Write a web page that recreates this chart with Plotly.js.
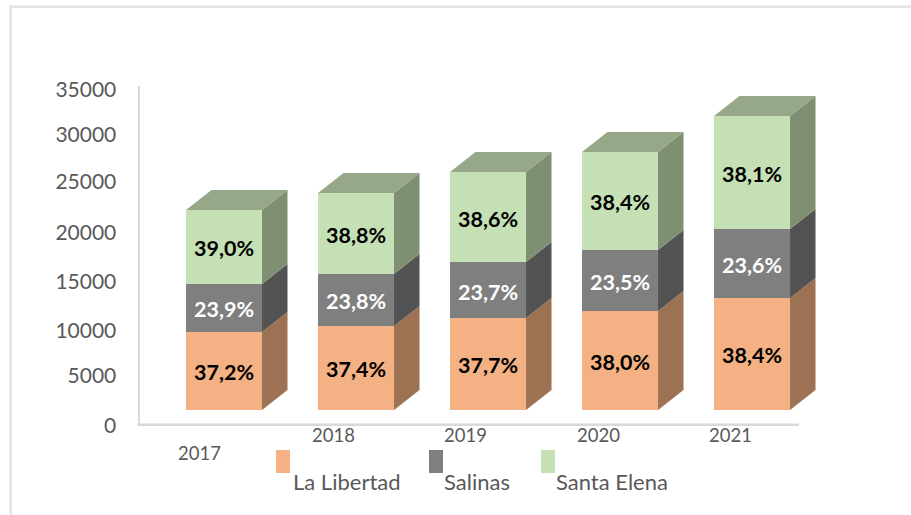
<!DOCTYPE html>
<html>
<head>
<meta charset="utf-8">
<script src="https://cdn.plot.ly/plotly-3.0.1.min.js"></script>
<style>html,body{margin:0;padding:0;background:#fff;overflow:hidden}#chart{width:911px;height:515px}</style>
</head>
<body>
<div id="chart"></div>
<script>
// Data
const years = ['2017', '2018', '2019', '2020', '2021'];
const seriesNames = ['La Libertad', 'Salinas', 'Santa Elena'];
const laLibertad = [8125, 8750, 9580, 10310, 11670];
const salinas = [5000, 5420, 5830, 6355, 7190];
const santaElena = [7710, 8440, 9375, 10210, 11770];
const laLibertadPct = ['37,2%', '37,4%', '37,7%', '38,0%', '38,4%'];
const salinasPct = ['23,9%', '23,8%', '23,7%', '23,5%', '23,6%'];
const santaElenaPct = ['39,0%', '38,8%', '38,6%', '38,4%', '38,1%'];
const yTickLabels = ['0', '5000', '10000', '15000', '20000', '25000', '30000', '35000'];
const yTickAt = [0, 5208, 9927, 15031, 20104, 25417, 30312, 35000];

// Styles and the fake 3D projection
const W = 911, H = 515;
const front = ['#f4b183', '#7f7f7f', '#c5e0b4'];
const side = ['#9c7252', '#525252', '#7f8f72'];
const topFace = '#96a888';
const labelColor = ['#000000', '#ffffff', '#000000'];
const grey = '#595959', axisGrey = '#d9d9d9';
const font = 'Lato, Carlito, Calibri, sans-serif';
const barWidth = 0.576, depthX = 0.193, depthY = 2083, floorLift = 1670;
const px = v => v / W, py = v => 1 - v / H;

const xs = years.map((_, i) => i);
const values = [laLibertad, salinas, santaElena];
const pcts = [laLibertadPct, salinasPct, santaElenaPct];

const data = [];
const bases = xs.map(() => floorLift);
const annotations = [];
values.forEach((vals, s) => {
  const b = bases.slice();
  data.push({
    type: 'bar', x: xs, y: vals, base: b, width: barWidth, name: seriesNames[s],
    marker: {color: front[s], line: {width: 0}},
    hoverinfo: 'skip', showlegend: false
  });
  const sx = [], sy = [];
  xs.forEach((x, i) => {
    const r = x + barWidth / 2, lo = b[i], hi = b[i] + vals[i];
    sx.push(r, r + depthX, r + depthX, r, r, null);
    sy.push(lo, lo + depthY, hi + depthY, hi, lo, null);
    bases[i] = hi;
    annotations.push({
      text: '<b>' + pcts[s][i] + '</b>', xref: 'x', yref: 'y', x: x, y: (lo + hi) / 2, yshift: -1.5,
      xanchor: 'center', yanchor: 'middle', showarrow: false,
      font: {family: font, size: 21.5, color: labelColor[s]}
    });
  });
  data.push({
    type: 'scatter', mode: 'lines', x: sx, y: sy, fill: 'toself', fillcolor: side[s],
    line: {width: 0, color: side[s]}, hoverinfo: 'skip', showlegend: false
  });
});
// top faces of the stacks
const tx = [], ty = [];
xs.forEach((x, i) => {
  const l = x - barWidth / 2, r = x + barWidth / 2, t = bases[i];
  tx.push(l, r, r + depthX, l + depthX, l, null);
  ty.push(t, t, t + depthY, t + depthY, t, null);
});
data.push({
  type: 'scatter', mode: 'lines', x: tx, y: ty, fill: 'toself', fillcolor: topFace,
  line: {width: 0, color: topFace}, hoverinfo: 'skip', showlegend: false
});

// category labels sit left of the bars in the reference, and 2017 drops lower
const yearX = [199, 333, 465, 598, 730];
const yearY = [453, 435, 435, 435, 435];
years.forEach((t, i) => annotations.push({
  text: t, xref: 'paper', yref: 'paper', x: px(yearX[i]), y: py(yearY[i]),
  xanchor: 'center', yanchor: 'middle', showarrow: false,
  font: {family: font, size: 18.5, color: grey}
}));
const legendTextX = [291, 442, 554];
const legendSwatchX = [276, 429, 541];
seriesNames.forEach((n, s) => annotations.push({
  text: n, xref: 'paper', yref: 'paper', x: px(legendTextX[s]), y: py(481),
  xanchor: 'left', yanchor: 'middle', showarrow: false,
  font: {family: font, size: 22, color: grey}
}));

const rect = (x0, y0, x1, y1, c) => ({
  type: 'rect', xref: 'paper', yref: 'paper', x0: px(x0), x1: px(x1), y0: py(y0), y1: py(y1),
  fillcolor: c, line: {width: 0}, layer: 'below'
});
const shapes = [
  rect(9.5, 5.5, 12, 515, '#e3e3e3'),
  rect(9.5, 5.5, 911, 8, '#e3e3e3'),
  rect(137.5, 423.5, 799, 426, axisGrey)
];
legendSwatchX.forEach((x, s) => shapes.push(rect(x, 450, x + 14, 473, front[s])));

const layout = {
  width: W, height: H, margin: {l: 0, r: 0, t: 0, b: 0},
  paper_bgcolor: '#fff', plot_bgcolor: 'rgba(0,0,0,0)',
  barmode: 'overlay', showlegend: false, hovermode: false,
  xaxis: {
    domain: [px(140), px(820)], range: [-0.6364, 4.515], showgrid: false, zeroline: false,
    showline: false, showticklabels: false, ticks: '', fixedrange: true
  },
  yaxis: {
    domain: [py(426), py(86)], range: [0, 35417], showgrid: false, zeroline: false,
    showline: true, linecolor: axisGrey, linewidth: 2.5, ticks: '',
    tickmode: 'array', tickvals: yTickAt, ticktext: yTickLabels, ticklabelstandoff: 17,
    tickfont: {family: font, size: 21, color: grey}, fixedrange: true
  },
  annotations, shapes
};
Plotly.newPlot('chart', data, layout, {displayModeBar: false, staticPlot: true});
</script>
</body>
</html>
